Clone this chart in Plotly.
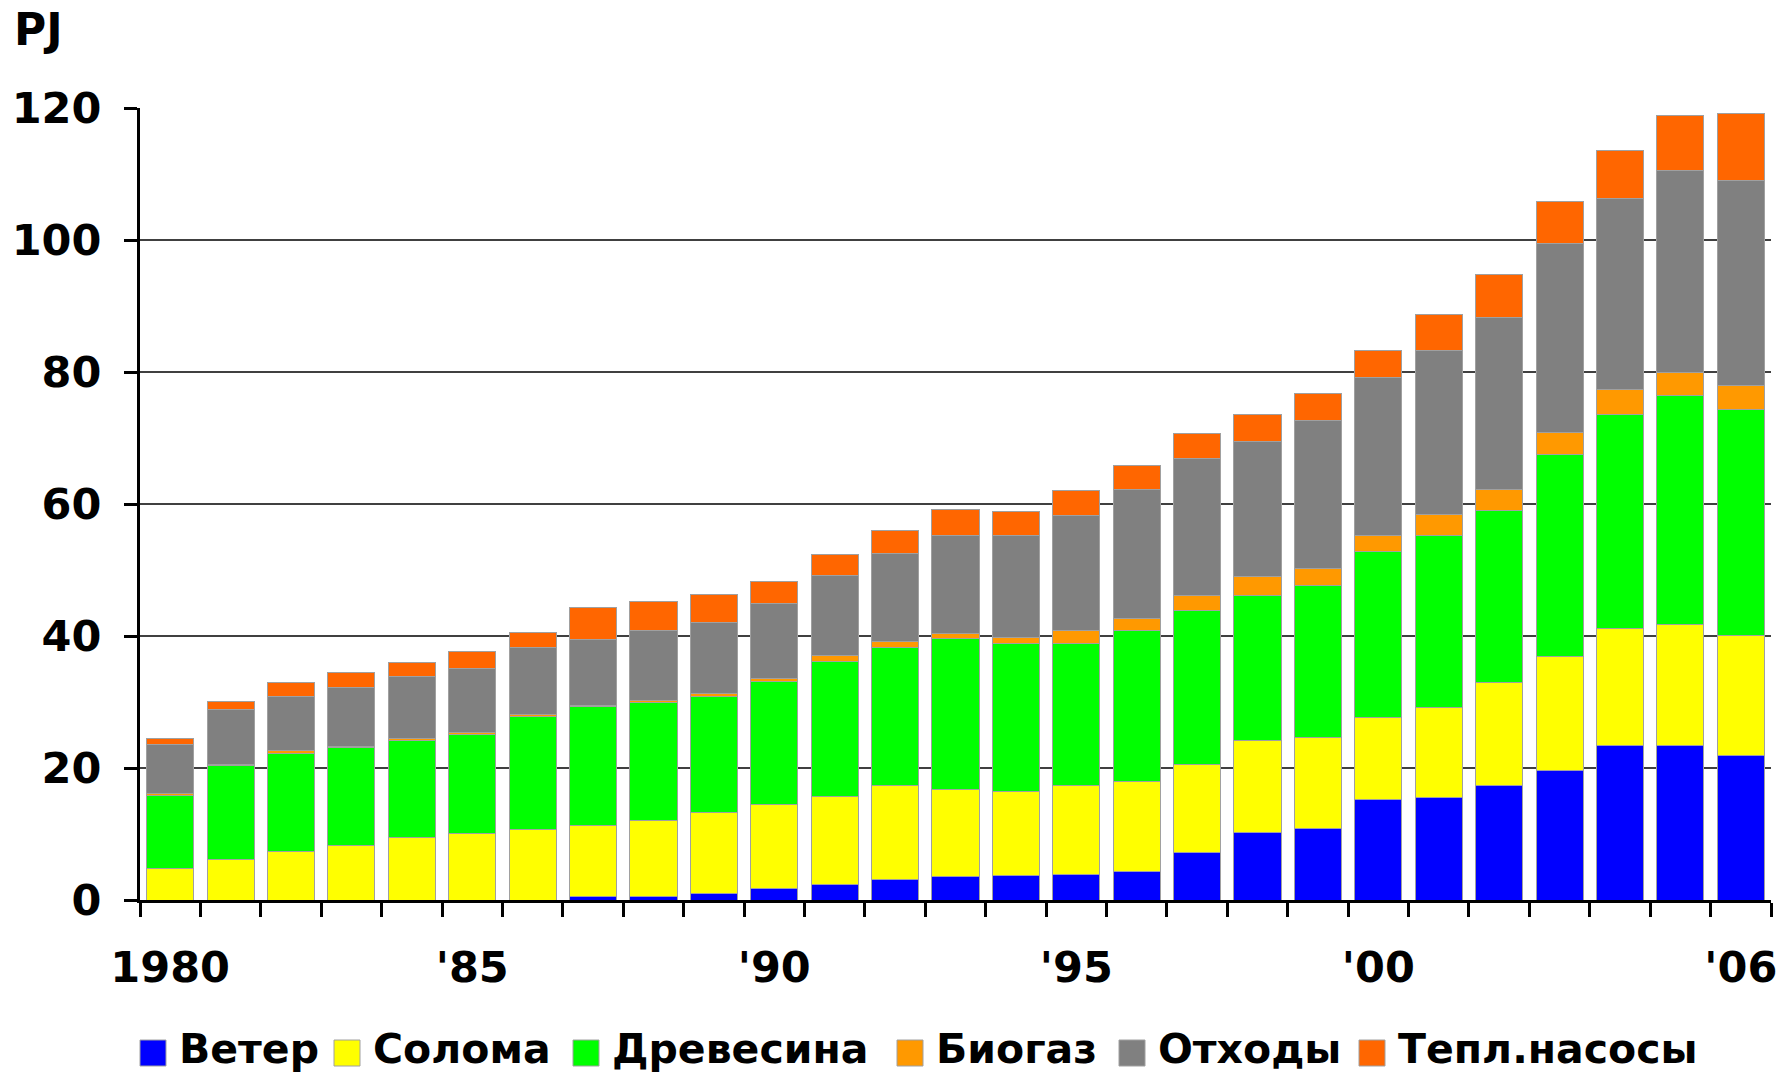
import plotly.graph_objects as go

years = list(range(1980, 2007))
tick_years = [1980, 1985, 1990, 1995, 2000, 2006]
tick_text = ["1980", "'85", "'90", "'95", "'00", "'06"]

wind = [0, 0, 0, 0, 0, 0, 0, 0.5, 0.6, 1.0, 1.7, 2.4, 3.1, 3.5, 3.7, 3.8, 4.3, 7.2, 10.2, 10.8,
        15.2, 15.6, 17.4, 19.6, 23.4, 23.4, 21.9]
straw = [4.7, 6.2, 7.3, 8.3, 9.4, 10.1, 10.7, 10.8, 11.4, 12.2, 12.7, 13.3, 14.2, 13.3, 12.8, 13.5,
         13.7, 13.4, 13.9, 13.8, 12.4, 13.5, 15.6, 17.3, 17.8, 18.4, 18.2]
wood = [11.1, 14.2, 14.9, 14.8, 14.8, 15.0, 17.1, 18.0, 18.0, 17.7, 18.7, 20.4, 20.9, 22.8, 22.4,
        21.6, 22.8, 23.3, 22.1, 23.0, 25.2, 26.2, 26.0, 30.6, 32.3, 34.6, 34.2]
biogas = [0.3, 0.2, 0.4, 0.2, 0.3, 0.3, 0.3, 0.2, 0.2, 0.4, 0.5, 1.0, 0.9, 0.8, 0.9, 2.0, 1.9, 2.3,
          2.8, 2.7, 2.5, 3.1, 3.2, 3.4, 3.9, 3.6, 3.7]
waste = [7.4, 8.2, 8.3, 8.9, 9.3, 9.7, 10.1, 10.0, 10.6, 10.8, 11.4, 12.0, 13.4, 14.8, 15.4, 17.4,
         19.5, 20.7, 20.4, 22.4, 23.8, 24.8, 26.1, 28.6, 28.9, 30.6, 31.0]
heatpumps = [0.9, 1.3, 2.0, 2.3, 2.2, 2.5, 2.4, 4.8, 4.4, 4.2, 3.3, 3.3, 3.5, 3.9, 3.6, 3.8, 3.6,
             3.8, 4.2, 4.1, 4.2, 5.5, 6.4, 6.3, 7.3, 8.2, 10.2]

series_names = ["Ветер", "Солома", "Древесина", "Биогаз", "Отходы", "Тепл.насосы"]
series_values = [wind, straw, wood, biogas, waste, heatpumps]
series_colors = ["#0000FF", "#FFFF00", "#00FF00", "#FF9900", "#808080", "#FF6600"]

FONT = "DejaVu Sans"
W, H = 1783, 1077
ML, MR, MT, MB = 140, 12, 108, 177
PW, PH = W - ML - MR, H - MT - MB


def px_x(p):
    return (p - ML) / PW


def px_y(p):
    return 1 - (p - MT) / PH


fig = go.Figure()
for name, vals, color in zip(series_names, series_values, series_colors):
    fig.add_trace(go.Bar(
        x=years, y=vals, name=name, showlegend=False,
        marker=dict(color=color, line=dict(color="#A0A0A0", width=1)),
    ))

# manual legend (large square keys like the original)
key_left = [140, 334, 573, 897, 1119, 1359]
shapes = []
annotations = []
for left, name, color in zip(key_left, series_names, series_colors):
    shapes.append(dict(
        type="rect", xref="paper", yref="paper",
        x0=px_x(left), x1=px_x(left + 26), y0=px_y(1066), y1=px_y(1040),
        fillcolor=color, line=dict(color="#A0A0A0", width=1),
    ))
    annotations.append(dict(
        text=name, xref="paper", yref="paper",
        x=px_x(left + 37), y=px_y(1049), xanchor="left", yanchor="middle",
        showarrow=False,
        font=dict(family=FONT, size=41, color="black", weight="bold"),
    ))

annotations.append(dict(
    text="PJ", xref="paper", yref="paper",
    x=px_x(12), y=px_y(2), xanchor="left", yanchor="top",
    showarrow=False, font=dict(family=FONT, size=44, color="black", weight="bold"),
))

fig.update_layout(
    barmode="stack",
    bargap=0.22,
    width=W, height=H,
    margin=dict(l=ML, r=MR, t=MT, b=MB, autoexpand=False),
    paper_bgcolor="white",
    plot_bgcolor="white",
    font=dict(family=FONT, size=42, color="black", weight="bold"),
    showlegend=False,
    shapes=shapes,
    annotations=annotations,
)

fig.update_xaxes(
    range=[1979.5, 2006.5],
    tickmode="array", tickvals=tick_years, ticktext=tick_text,
    ticks="", ticklabelstandoff=27,
    showline=True, linecolor="black", linewidth=3,
    showgrid=False, zeroline=False, automargin=False,
    tickfont=dict(family=FONT, size=43, color="black", weight="bold"),
    minor=dict(ticks="outside", tick0=1979.5, dtick=1, ticklen=14,
               tickwidth=3, tickcolor="black", showgrid=False),
)

fig.update_yaxes(
    range=[0, 120], dtick=20, tick0=0,
    ticks="outside", ticklen=13, tickwidth=3, tickcolor="black",
    ticklabelstandoff=14,
    showline=True, linecolor="black", linewidth=3,
    showgrid=True, gridcolor="#404040", gridwidth=2,
    zeroline=False, automargin=False,
    tickfont=dict(family=FONT, size=43, color="black", weight="bold"),
)

fig.write_html("out.html")
